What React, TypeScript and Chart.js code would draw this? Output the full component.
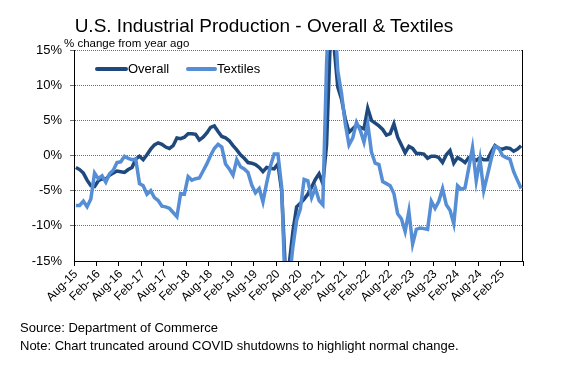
import React, { useEffect, useRef } from 'react';
import { Chart, registerables } from 'chart.js';

Chart.register(...registerables);

// Monthly, Aug-2015 .. Jul-2025 (year-over-year % change)
const tickLabels = [
  'Aug-15', 'Feb-16', 'Aug-16', 'Feb-17', 'Aug-17', 'Feb-18', 'Aug-18', 'Feb-19', 'Aug-19', 'Feb-20',
  'Aug-20', 'Feb-21', 'Aug-21', 'Feb-22', 'Aug-22', 'Feb-23', 'Aug-23', 'Feb-24', 'Aug-24', 'Feb-25',
];

const overall = [
  -1.7, -2.0, -2.5, -3.5, -4.3, -4.4, -3.6, -3.3, -3.4, -2.8,
  -2.5, -2.2, -2.3, -2.4, -2.0, -1.7, -0.5, -0.1, -0.6, 0.1,
  0.9, 1.5, 1.8, 1.6, 1.2, 1.0, 1.4, 2.5, 2.4, 2.6,
  3.1, 3.1, 3.0, 2.2, 2.6, 3.2, 4.0, 4.2, 3.4, 2.7,
  2.5, 2.1, 1.4, 0.8, 0.1, -0.4, -1.0, -1.1, -1.3, -1.7,
  -2.3, -1.7, -1.8, -1.9, -1.2, -5.0, -16.5, -15.5, -10.8, -7.3,
  -6.8, -6.2, -5.5, -4.5, -3.4, -2.6, -4.0, 1.5, 16.5, 15.5,
  9.7, 8.0, 5.2, 3.3, 3.8, 4.3, 4.0, 3.8, 6.7, 5.0,
  4.6, 4.2, 3.7, 2.9, 3.1, 4.5, 2.6, 1.5, 0.4, 1.3,
  1.0, 0.3, 0.3, 0.2, -0.4, -0.1, -0.1, -0.3, -1.0, 0.1,
  0.7, -1.1, -0.3, -0.6, -1.0, -0.3, -0.4, -0.7, -0.3, -0.6,
  -0.6, 0.5, 1.4, 1.0, 0.9, 1.1, 1.0, 0.6, 0.9, 1.4,
];

const textiles = [
  -7.1, -7.1, -6.5, -7.3, -6.2, -2.5, -3.3, -2.9, -3.8, -2.6,
  -2.1, -1.0, -0.9, -0.1, -0.4, -0.6, -0.5, -4.0, -4.3, -5.5,
  -5.0, -6.0, -6.4, -7.2, -7.3, -7.5, -8.1, -8.7, -5.4, -5.5,
  -3.0, -3.5, -3.3, -3.2, -2.2, -1.2, 0.0, 1.0, 1.6, 1.2,
  -1.2, -1.9, -2.8, -0.6, -1.6, -1.9, -2.4, -4.2, -5.3, -4.7,
  -6.6, -3.9, -1.5, 0.2, 0.2, -4.5, -20.0, -18.0, -13.0, -9.2,
  -7.6, -3.4, -3.6, -6.0, -4.6, -6.4, -7.0, 13.0, 25.0, 22.0,
  12.0, 8.8, 4.5, 1.5, 2.5, 4.7, 3.6, 1.9, 4.5, 0.5,
  -1.1, -1.3, -3.7, -4.0, -4.3, -5.4, -8.3, -9.0, -10.8, -7.9,
  -12.6, -10.5, -10.3, -10.4, -10.5, -6.5, -7.5, -6.5, -4.7, -7.0,
  -7.8, -9.7, -4.3, -4.8, -4.6, -1.8, 1.1, -3.6, -0.5, -5.0,
  -2.8, -0.5, 1.3, 1.1, 0.0, -0.3, -0.5, -2.3, -3.5, -4.7,
];

const yTicks = [-15, -10, -5, 0, 5, 10, 15];

const FONT = "'Liberation Sans', Arial, sans-serif";
const DARK = '#1F497D';
const LIGHT = '#558ED5';

const framePlugin = {
  id: 'frame',
  beforeDatasetsDraw(chart: any) {
    const { ctx, chartArea } = chart;
    ctx.save();
    ctx.strokeStyle = '#000';
    ctx.lineWidth = 1;
    ctx.beginPath();
    ctx.moveTo(Math.round(chartArea.right) - 0.5, chartArea.top);
    ctx.lineTo(Math.round(chartArea.right) - 0.5, chartArea.bottom);
    ctx.stroke();
    ctx.restore();
  },
};

const legendPlugin = {
  id: 'insideLegend',
  afterDatasetsDraw(chart: any) {
    const { ctx, chartArea } = chart;
    const items = [
      { ds: chart.data.datasets[0], x0: 23, len: 29, tx: 54 },
      { ds: chart.data.datasets[1], x0: 114, len: 27, tx: 143 },
    ];
    const y = chartArea.top + 19;
    ctx.save();
    ctx.font = `13px ${FONT}`;
    ctx.textBaseline = 'middle';
    ctx.textAlign = 'left';
    items.forEach((it) => {
      ctx.strokeStyle = it.ds.borderColor;
      ctx.lineWidth = 4;
      ctx.lineCap = 'round';
      ctx.beginPath();
      ctx.moveTo(chartArea.left + it.x0, y);
      ctx.lineTo(chartArea.left + it.x0 + it.len, y);
      ctx.stroke();
      ctx.fillStyle = '#000';
      ctx.fillText(it.ds.label, chartArea.left + it.tx, y);
    });
    ctx.restore();
  },
};

export default function App() {
  const ref = useRef<HTMLCanvasElement>(null);

  useEffect(() => {
    if (!ref.current) return;
    const chart = new Chart(ref.current, {
      type: 'line',
      data: {
        datasets: [
          {
            label: 'Overall',
            data: overall.map((v, i) => ({ x: i + 0.5, y: v })),
            borderColor: DARK,
            backgroundColor: DARK,
            borderWidth: 3.5,
            pointRadius: 0,
            tension: 0,
            clip: 0,
            order: 2,
          },
          {
            label: 'Textiles',
            data: textiles.map((v, i) => ({ x: i + 0.5, y: v })),
            borderColor: LIGHT,
            backgroundColor: LIGHT,
            borderWidth: 3.5,
            pointRadius: 0,
            tension: 0,
            clip: 0,
            order: 1,
          },
        ],
      },
      options: {
        animation: false,
        responsive: false,
        layout: { padding: { top: 50, right: 52, left: 0, bottom: 0 } },
        plugins: {
          legend: { display: false },
          tooltip: { enabled: false },
          title: { display: false },
        },
        scales: {
          x: {
            type: 'linear',
            min: 0,
            max: 120,
            afterFit: (s: any) => { s.height = 106; },
            ticks: {
              stepSize: 6,
              autoSkip: false,
              minRotation: 45,
              maxRotation: 45,
              labelOffset: 2,
              padding: 1,
              color: '#000',
              font: { family: FONT, size: 12 },
              callback: (v: any) => tickLabels[Math.round(Number(v) / 6)] ?? '',
            },
            grid: {
              drawOnChartArea: false,
              drawTicks: true,
              tickLength: 5,
              color: '#000',
            },
            border: { display: true, color: '#000', width: 1 },
          },
          y: {
            min: -15,
            max: 15,
            afterFit: (s: any) => { s.width = 74; },
            afterBuildTicks: (s: any) => { s.ticks = yTicks.map((v) => ({ value: v })); },
            ticks: {
              color: '#000',
              padding: 8,
              font: { family: FONT, size: 13 },
              callback: (v: any) => `${v}%`,
            },
            grid: {
              tickLength: 4,
              lineWidth: 1,
              color: (c: any) => (c.tick && c.tick.value === -15 ? 'rgba(0,0,0,0)' : '#707070'),
            },
            border: { display: true, color: '#000', width: 1, dash: [1, 1] },
          },
        },
      },
      plugins: [framePlugin, legendPlugin],
    });
    return () => chart.destroy();
  }, []);

  const text: React.CSSProperties = {
    position: 'absolute',
    fontFamily: FONT,
    color: '#000',
    whiteSpace: 'nowrap',
    margin: 0,
  };

  return (
    <div style={{ position: 'absolute', left: 0, top: 0, width: 575, height: 367, background: '#fff' }}>
      <canvas ref={ref} width={575} height={367} style={{ position: 'absolute', left: 0, top: 0 }} />
      <div style={{ ...text, left: 0, width: 528, top: 14, fontSize: 19, lineHeight: '24px', textAlign: 'center' }}>
        U.S. Industrial Production - Overall &amp; Textiles
      </div>
      <div style={{ ...text, left: 64, top: 36, fontSize: 11.5, lineHeight: '15px' }}>% change from year ago</div>
      <div style={{ ...text, left: 20, top: 320, fontSize: 13 }}>Source: Department of Commerce</div>
      <div style={{ ...text, left: 20, top: 338, fontSize: 13 }}>
        Note: Chart truncated around COVID shutdowns to highlight normal change.
      </div>
    </div>
  );
}
